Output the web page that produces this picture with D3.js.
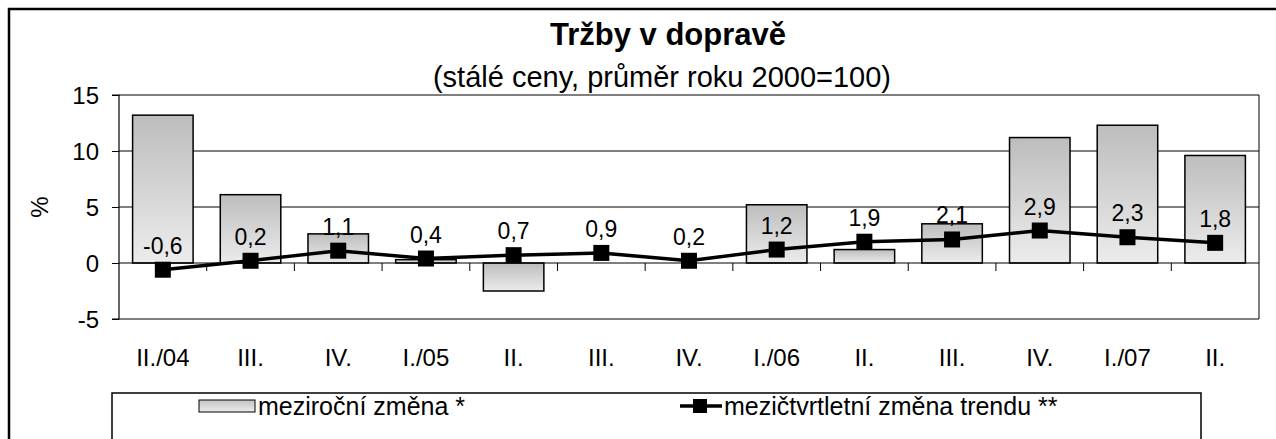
<!DOCTYPE html>
<html><head><meta charset="utf-8">
<script src="https://cdn.jsdelivr.net/npm/d3@7"></script>
<style>
html,body{margin:0;padding:0;background:#fff;}
svg{display:block;font-family:"Liberation Sans",Arial,Helvetica,sans-serif;}
</style></head>
<body>
<svg id="chart" width="1276" height="439"></svg>
<script>
const categories = ["II./04","III.","IV.","I./05","II.","III.","IV.","I./06","II.","III.","IV.","I./07","II."];
const yoyChange = [13.2, 6.1, 2.6, 0.3, -2.5, 0.0, 0.0, 5.2, 1.2, 3.5, 11.2, 12.3, 9.6];
const trendChange = [-0.6, 0.2, 1.1, 0.4, 0.7, 0.9, 0.2, 1.2, 1.9, 2.1, 2.9, 2.3, 1.8];
const yTicks = [-5, 0, 5, 10, 15];
const titleText = "Tržby v dopravě";
const subtitleText = "(stálé ceny, průměr roku 2000=100)";
const legendLabels = ["meziroční změna *", "mezičtvrtletní změna trendu **"];

const FONT = "Liberation Sans, Arial, sans-serif";
const svg = d3.select("#chart");
const plot = {left:119, right:1259, top:95, bottom:319};

const defs = svg.append("defs");
const grad = defs.append("linearGradient").attr("id","barGrad").attr("x1",0).attr("y1",0).attr("x2",0).attr("y2",1);
grad.append("stop").attr("offset","0%").attr("stop-color","#bdbdbd");
grad.append("stop").attr("offset","100%").attr("stop-color","#ececec");

// outer frame
svg.append("rect").attr("x",9).attr("y",9).attr("width",1300).attr("height",500)
  .attr("fill","#fff").attr("stroke","#000").attr("stroke-width",2.5);

const x = d3.scaleBand().domain(d3.range(categories.length)).range([plot.left, plot.right]).paddingInner(0.31).paddingOuter(0.155);
const xc = d3.scaleBand().domain(d3.range(categories.length)).range([plot.left, plot.right]);
const y = d3.scaleLinear().domain([-5, 15]).range([plot.bottom, plot.top]);

// gridlines
svg.append("g").selectAll("line").data(yTicks.filter(t => t !== 0)).join("line")
  .attr("x1", plot.left).attr("x2", plot.right)
  .attr("y1", d => y(d)).attr("y2", d => y(d))
  .attr("stroke", "#000").attr("stroke-width", 1);
svg.append("line").attr("x1",plot.right).attr("x2",plot.right).attr("y1",plot.top).attr("y2",plot.bottom)
  .attr("stroke","#000").attr("stroke-width",1);

// bars
svg.append("g").selectAll("rect").data(yoyChange).join("rect")
  .attr("x", (d,i) => x(i))
  .attr("width", x.bandwidth())
  .attr("y", d => y(Math.max(0,d)))
  .attr("height", d => Math.abs(y(d) - y(0)))
  .attr("fill", "url(#barGrad)")
  .attr("stroke", "#000").attr("stroke-width", 1.5)
  .style("display", d => d === 0 ? "none" : null);

// y axis
const yAxis = d3.axisLeft(y).tickValues(yTicks).tickSize(7).tickPadding(13).tickFormat(d => String(d));
const ya = svg.append("g").attr("transform", `translate(${plot.left},0)`).call(yAxis);
ya.attr("font-family", FONT).attr("font-size", 24);
ya.select(".domain").attr("stroke","#000").attr("stroke-width",1.2).attr("d", `M-7,${plot.top}H0V${plot.bottom}H-7`);
ya.selectAll(".tick line").attr("stroke","#000");
ya.selectAll("text").attr("fill","#000").attr("dy","0.36em");

// x axis at zero
const xa = svg.append("g").attr("transform", `translate(0,${y(0)})`);
xa.append("line").attr("x1",plot.left).attr("x2",plot.right).attr("stroke","#000").attr("stroke-width",1.2);
xa.selectAll("line.tk").data(d3.range(1, categories.length)).join("line").attr("class","tk")
  .attr("x1", i => xc(i)).attr("x2", i => xc(i)).attr("y1",0).attr("y2",8)
  .attr("stroke","#000").attr("stroke-width",1);

// x labels
svg.append("g").selectAll("text").data(categories).join("text")
  .attr("x", (d,i) => xc(i) + xc.bandwidth()/2)
  .attr("y", 366)
  .attr("text-anchor","middle").attr("font-size",24).attr("fill","#000")
  .text(d => d);

// trend line
const cx = i => xc(i) + xc.bandwidth()/2;
const line = d3.line().x((d,i) => cx(i)).y(d => y(d));
svg.append("path").datum(trendChange).attr("d", line)
  .attr("fill","none").attr("stroke","#000").attr("stroke-width",3.5);
svg.append("g").selectAll("rect").data(trendChange).join("rect")
  .attr("x", (d,i) => cx(i) - 8).attr("y", d => y(d) - 8)
  .attr("width",16).attr("height",16).attr("fill","#000");

// data labels
svg.append("g").selectAll("text").data(trendChange).join("text")
  .attr("x", (d,i) => cx(i)).attr("y", d => y(d) - 16)
  .attr("text-anchor","middle").attr("font-size",23).attr("fill","#000")
  .text(d => d.toFixed(1).replace(".", ","));

// y title
svg.append("text").attr("transform","translate(48,207) rotate(-90)")
  .attr("text-anchor","middle").attr("font-size",24).text("%");

// titles
svg.append("text").attr("x",668).attr("y",45).attr("text-anchor","middle")
  .attr("font-size",31).attr("font-weight","bold").text(titleText);
svg.append("text").attr("x",662).attr("y",87).attr("text-anchor","middle")
  .attr("font-size",29).text(subtitleText);

// legend
svg.append("rect").attr("x",112).attr("y",393).attr("width",1089).attr("height",80)
  .attr("fill","#fff").attr("stroke","#000").attr("stroke-width",1.5);
const lg = defs.append("linearGradient").attr("id","legGrad").attr("x1",0).attr("y1",0).attr("x2",0).attr("y2",1);
lg.append("stop").attr("offset","0%").attr("stop-color","#c4c4c4");
lg.append("stop").attr("offset","100%").attr("stop-color","#ececec");
svg.append("rect").attr("x",199).attr("y",400).attr("width",56).attr("height",12)
  .attr("fill","url(#legGrad)").attr("stroke","#000").attr("stroke-width",1);
svg.append("text").attr("x",258).attr("y",415).attr("font-size",25).text(legendLabels[0]);
svg.append("line").attr("x1",680).attr("x2",722).attr("y1",406).attr("y2",406).attr("stroke","#000").attr("stroke-width",3.5);
svg.append("rect").attr("x",693).attr("y",399).attr("width",14).attr("height",14).attr("fill","#000");
svg.append("text").attr("x",724).attr("y",415).attr("font-size",25).text(legendLabels[1]);
</script>
</body></html>
